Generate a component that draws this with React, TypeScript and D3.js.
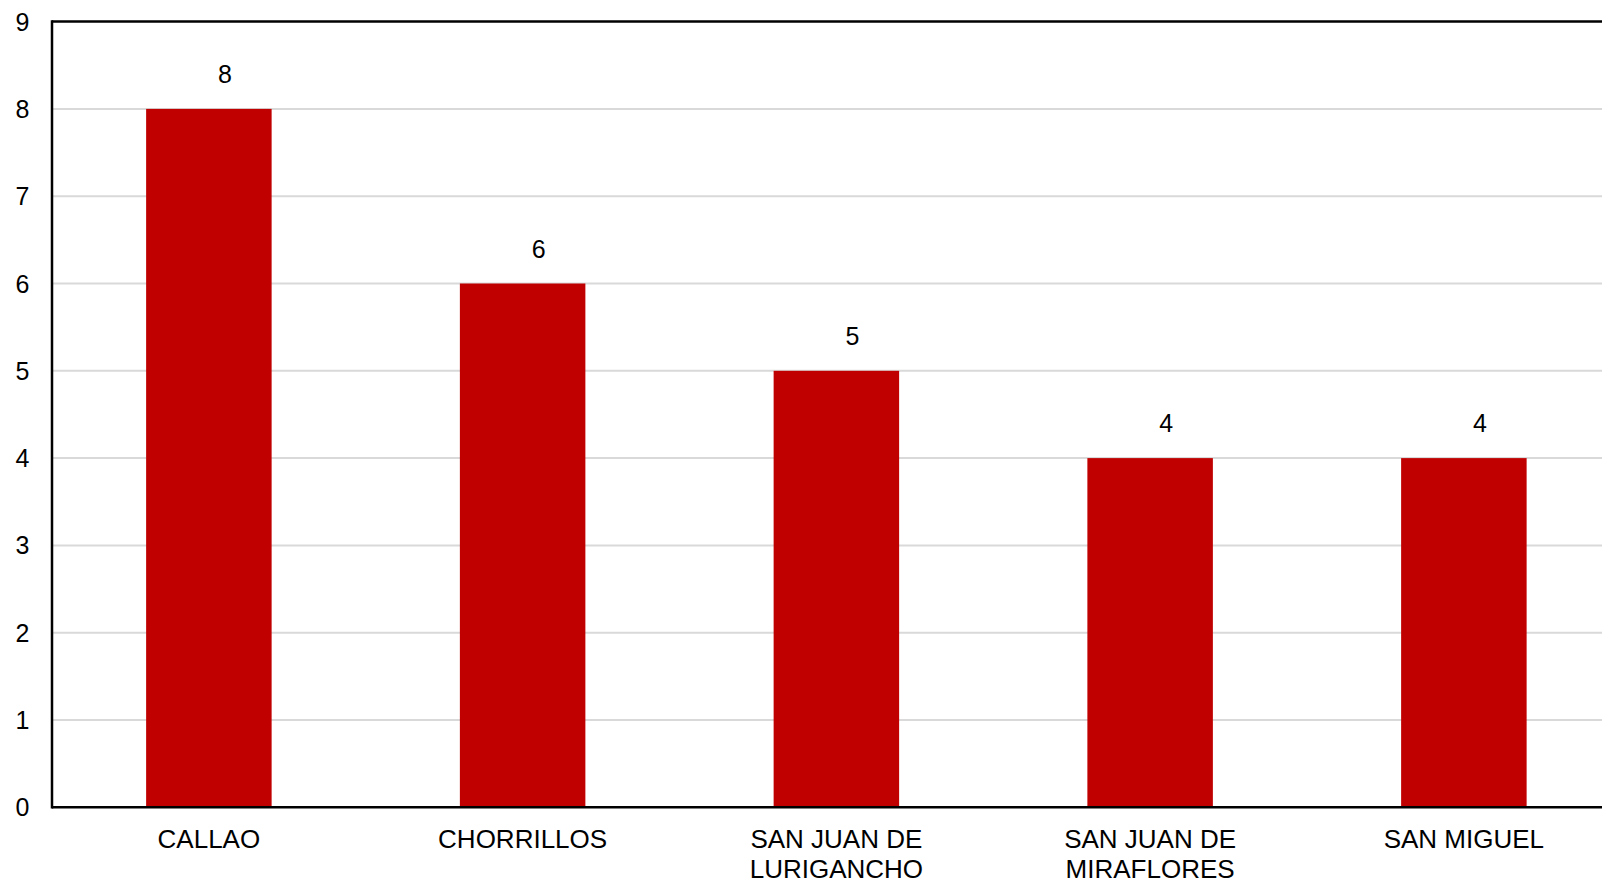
import React from "react";
import * as d3 from "d3";

const categories: string[][] = [
  ["CALLAO"],
  ["CHORRILLOS"],
  ["SAN JUAN DE", "LURIGANCHO"],
  ["SAN JUAN DE", "MIRAFLORES"],
  ["SAN MIGUEL"],
];
const values: number[] = [8, 6, 5, 4, 4];
const yTicks: number[] = [0, 1, 2, 3, 4, 5, 6, 7, 8, 9];

const W = 1602;
const H = 882;
const X0 = 52;
const X1 = 1620.75;
const Y0 = 807.3;
const Y1 = 21.6;
const FONT = "'Liberation Sans', Arial, Helvetica, sans-serif";

export default function App() {
  const keys = categories.map((c, i) => String(i));
  const x = d3.scaleBand<string>().domain(keys).range([X0, X1]).paddingInner(0.6).paddingOuter(0.3);
  const y = d3.scaleLinear().domain([0, 9]).range([Y0, Y1]);

  return (
    <svg
      width={W}
      height={H}
      style={{ position: "absolute", left: 0, top: 0, background: "#fff" }}
      fontFamily={FONT}
    >
      <rect x={0} y={0} width={W} height={H} fill="#fff" />
      {yTicks.filter((t) => t > 0 && t < 9).map((t) => (
        <line key={"g" + t} x1={X0} x2={W} y1={y(t)} y2={y(t)} stroke="#d9d9d9" strokeWidth={2} />
      ))}
      {values.map((v, i) => (
        <rect
          key={"b" + i}
          x={x(String(i))!}
          y={y(v)}
          width={x.bandwidth()}
          height={y(0) - y(v)}
          fill="#c00000"
        />
      ))}
      {/* frame */}
      <line x1={X0} x2={W} y1={y(9)} y2={y(9)} stroke="#000" strokeWidth={2.5} />
      <line x1={X0} x2={X0} y1={y(9) - 1.25} y2={y(0) + 1.25} stroke="#000" strokeWidth={2.5} />
      <line x1={X0} x2={W} y1={y(0)} y2={y(0)} stroke="#000" strokeWidth={2.5} />
      {yTicks.map((t) => (
        <text key={"t" + t} x={29.5} y={y(t)} dy="0.36em" textAnchor="end" fontSize={25} fill="#000">
          {t}
        </text>
      ))}
      {values.map((v, i) => (
        <text
          key={"l" + i}
          x={x(String(i))! + x.bandwidth() / 2 + 16}
          y={y(v) - 35}
          dy="0.36em"
          textAnchor="middle"
          fontSize={25}
          fill="#000"
        >
          {v}
        </text>
      ))}
      {categories.map((lines, i) => (
        <text
          key={"c" + i}
          x={x(String(i))! + x.bandwidth() / 2}
          y={848}
          textAnchor="middle"
          fontSize={26}
          fill="#000"
        >
          {lines.map((ln, j) => (
            <tspan key={j} x={x(String(i))! + x.bandwidth() / 2} dy={j === 0 ? 0 : 29.5}>
              {ln}
            </tspan>
          ))}
        </text>
      ))}
    </svg>
  );
}
